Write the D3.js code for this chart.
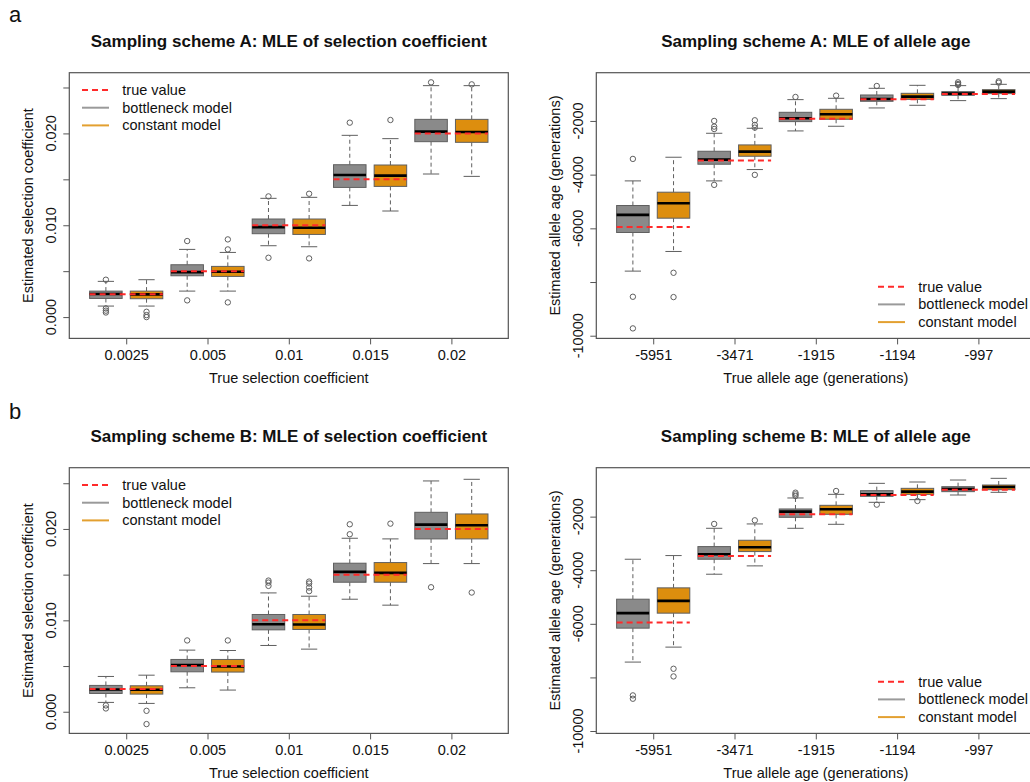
<!DOCTYPE html>
<html>
<head>
<meta charset="utf-8">
<script src="https://cdn.jsdelivr.net/npm/d3@7"></script>
<style>
  html, body { margin: 0; padding: 0; background: #fff; }
  svg { display: block; }
  text { font-family: "Liberation Sans", Arial, Helvetica, sans-serif; fill: #111; }
</style>
</head>
<body>
<svg id="chart" width="1030" height="782"></svg>
<script>
// ---------------- DATA ----------------
const selCategories = ["0.0025", "0.005", "0.01", "0.015", "0.02"];
const selTrue = [0.0025, 0.005, 0.01, 0.015, 0.02];
const ageCategories = ["-5951", "-3471", "-1915", "-1194", "-997"];
const ageTrue = [-5951, -3471, -1915, -1194, -997];
const modelNames = ["true value", "bottleneck model", "constant model"];

const selTickValues = [0, 0.005, 0.01, 0.015, 0.02, 0.025];
const selTickLabels = [0, 0.01, 0.02];
const ageTickValues = [-10000, -8000, -6000, -4000, -2000];
const ageTickLabels = [-10000, -6000, -4000, -2000];

// each row: [lower whisker, Q1, median, Q3, upper whisker]
// Sampling scheme A, selection coefficient
const aSelBottleneck = [
  [0.0012, 0.00203, 0.00251, 0.00283, 0.00389],
  [0.00283, 0.0045, 0.0049, 0.0057, 0.00737],
  [0.00777, 0.00908, 0.0098, 0.01068, 0.01293],
  [0.01216, 0.01412, 0.01547, 0.01659, 0.01979],
  [0.01558, 0.0191, 0.02019, 0.02153, 0.0252]
];
const aSelConstant = [
  [0.0012, 0.002, 0.00247, 0.00283, 0.00407],
  [0.00283, 0.00443, 0.00494, 0.00552, 0.00704],
  [0.00766, 0.009, 0.00973, 0.01068, 0.01304],
  [0.01155, 0.01423, 0.0154, 0.01656, 0.01943],
  [0.01532, 0.01903, 0.02015, 0.02153, 0.0252]
];
const aSelBottleneckOut = [[0.00407, 0.00094, 0.0007, 0.0005], [0.00828, 0.00182], [0.01314, 0.00646], [0.02117], [0.02556]];
const aSelConstantOut = [[0.00058, 0.00022, 0.0], [0.00846, 0.00737, 0.0016], [0.01343, 0.00639], [0.02146], [0.02534]];

// Sampling scheme A, allele age
const aAgeBottleneck = [
  [-7594, -6155, -5498, -5150, -4233],
  [-4233, -3612, -3440, -3129, -2459],
  [-2372, -2025, -1901, -1678, -1206],
  [-1516, -1268, -1181, -1033, -784],
  [-1243, -1045, -983, -909, -685]
];
const aAgeConstant = [
  [-6862, -5622, -5064, -4654, -3352],
  [-3811, -3315, -3141, -2893, -2273],
  [-2198, -1938, -1752, -1566, -1157],
  [-1417, -1194, -1095, -971, -673],
  [-1169, -983, -909, -834, -636]
];
const aAgeBottleneckOut = [[-3414, -8549, -9727], [-2000, -2211, -2300, -4381], [-1107], [-698], [-561, -623, -660]];
const aAgeConstantOut = [[-7656, -8561], [-1975, -2149, -2248, -4009], [-1057], [], [-524, -574]];

// Sampling scheme B, selection coefficient
const bSelBottleneck = [
  [0.00102, 0.002, 0.00244, 0.00288, 0.00386],
  [0.00262, 0.00437, 0.0051, 0.00572, 0.00674],
  [0.00725, 0.00896, 0.00958, 0.01064, 0.013],
  [0.01231, 0.01417, 0.0153, 0.01625, 0.01898],
  [0.01621, 0.01891, 0.02047, 0.02182, 0.02525]
];
const bSelConstant = [
  [0.00091, 0.00193, 0.0024, 0.00284, 0.004],
  [0.00237, 0.00434, 0.00495, 0.00572, 0.0067],
  [0.00685, 0.009, 0.00954, 0.01064, 0.01264],
  [0.01166, 0.01417, 0.01519, 0.01632, 0.01891],
  [0.01621, 0.01891, 0.0204, 0.02164, 0.02543]
];
const bSelBottleneckOut = [[0.00069, 0.00036], [0.0078], [0.01435, 0.01413, 0.01377], [0.02051, 0.01942], [0.01362]];
const bSelConstantOut = [[0.0001, -0.00135], [0.0078], [0.01424, 0.01403, 0.01359, 0.01319], [0.02058], [0.01304]];

// Sampling scheme B, allele age
const bAgeBottleneck = [
  [-7428, -6161, -5602, -5081, -3590],
  [-4149, -3590, -3404, -3118, -2435],
  [-2435, -2025, -1814, -1714, -1304],
  [-1466, -1242, -1168, -1031, -758],
  [-1193, -1068, -969, -882, -634]
];
const bAgeConstant = [
  [-6869, -5602, -5143, -4658, -3453],
  [-3838, -3304, -3143, -2882, -2273],
  [-2286, -1913, -1727, -1578, -1168],
  [-1366, -1168, -1068, -944, -708],
  [-1093, -994, -894, -820, -571]
];
const bAgeBottleneckOut = [[-8671, -8795], [-2273], [-1106, -1168, -1230], [-1553], []];
const bAgeConstantOut = [[-7677, -7963], [-2137], [-1043], [-1416], []];

// ---------------- DRAWING ----------------
const svg = d3.select("#chart");
const FONT = 14.5;
const COL_GRAY = "#8a8a8a";
const COL_ORANGE = "#dd8e0e";
const COL_EDGE = "#5f5f5f";
const COL_RED = "#ff2a2a";

function drawPanel(cfg) {
  const W = 439, H = 265.7;
  const L = cfg.left, T = cfg.top, R = L + W, B = T + H;
  const x = d3.scaleLinear().domain([0.1, 10.9]).range([L, R]);
  const y = d3.scaleLinear().domain(cfg.yDomain).range([B, T]);
  const g = svg.append("g");

  // title
  g.append("text").attr("x", (L + R) / 2).attr("y", T - 25.7)
    .attr("text-anchor", "middle").attr("font-weight", "bold").attr("font-size", 17)
    .text(cfg.title);

  // boxes
  const groups = [
    { stats: cfg.gray, out: cfg.grayOut, fill: COL_GRAY, off: 1 },
    { stats: cfg.orange, out: cfg.orangeOut, fill: COL_ORANGE, off: 2 }
  ];
  const bw = 0.8;
  groups.forEach(gr => {
    gr.stats.forEach((s, i) => {
      const p = 2 * i + gr.off;
      const [lo, q1, med, q3, hi] = s;
      const cx = x(p);
      const hw = x(p + bw / 2) - cx;
      // whiskers (dashed)
      g.append("line").attr("x1", cx).attr("x2", cx).attr("y1", y(q3)).attr("y2", y(hi))
        .attr("stroke", COL_EDGE).attr("stroke-dasharray", "4,3");
      g.append("line").attr("x1", cx).attr("x2", cx).attr("y1", y(q1)).attr("y2", y(lo))
        .attr("stroke", COL_EDGE).attr("stroke-dasharray", "4,3");
      // staples
      [lo, hi].forEach(v => {
        g.append("line").attr("x1", cx - hw / 2).attr("x2", cx + hw / 2)
          .attr("y1", y(v)).attr("y2", y(v)).attr("stroke", COL_EDGE);
      });
      // box
      g.append("rect").attr("x", cx - hw).attr("width", 2 * hw)
        .attr("y", y(q3)).attr("height", y(q1) - y(q3))
        .attr("fill", gr.fill).attr("stroke", COL_EDGE).attr("stroke-width", 1);
      // median
      g.append("line").attr("x1", cx - hw).attr("x2", cx + hw)
        .attr("y1", y(med)).attr("y2", y(med)).attr("stroke", "#000").attr("stroke-width", 2.6);
      // outliers
      gr.out[i].forEach(v => {
        g.append("circle").attr("cx", cx).attr("cy", y(v)).attr("r", 2.7)
          .attr("fill", "none").attr("stroke", COL_EDGE).attr("stroke-width", 1);
      });
    });
  });

  // true values
  cfg.truth.forEach((v, i) => {
    const p1 = 2 * i + 1, p2 = 2 * i + 2;
    g.append("line").attr("x1", x(p1 - bw / 2)).attr("x2", x(p2 + bw / 2))
      .attr("y1", y(v)).attr("y2", y(v))
      .attr("stroke", COL_RED).attr("stroke-width", 2).attr("stroke-dasharray", "6,4");
  });

  // frame
  g.append("rect").attr("x", L).attr("y", T).attr("width", W).attr("height", H)
    .attr("fill", "none").attr("stroke", "#555").attr("stroke-width", 1.2);

  // x axis
  const xTickPos = cfg.xLabels.map((d, i) => 2 * i + 1.5);
  const xAxis = d3.axisBottom(x).tickValues(xTickPos).tickSize(6).tickPadding(0)
    .tickFormat((d, i) => cfg.xLabels[i]);
  const gx = g.append("g").attr("transform", `translate(0,${B})`).call(xAxis);
  gx.select(".domain").remove();
  gx.selectAll(".tick line").attr("stroke", "#555");
  gx.selectAll(".tick text").attr("font-size", FONT).attr("fill", "#111")
    .attr("dy", null).attr("y", 21.7);

  // y axis ticks
  const yAxis = d3.axisLeft(y).tickValues(cfg.yTicks).tickSize(6).tickFormat("");
  const gy = g.append("g").attr("transform", `translate(${L},0)`).call(yAxis);
  gy.select(".domain").remove();
  gy.selectAll(".tick line").attr("stroke", "#555");
  // rotated y labels
  cfg.yLabelTicks.forEach(v => {
    const tx = L - 13, ty = y(v);
    g.append("text").attr("x", tx).attr("y", ty)
      .attr("transform", `rotate(-90,${tx},${ty})`)
      .attr("text-anchor", "middle").attr("font-size", FONT)
      .text(cfg.yFormat(v));
  });

  // axis titles
  g.append("text").attr("x", (L + R) / 2).attr("y", B + 45)
    .attr("text-anchor", "middle").attr("font-size", FONT).text(cfg.xTitle);
  const ax = L - 36, ay = (T + B) / 2;
  g.append("text").attr("x", ax).attr("y", ay)
    .attr("transform", `rotate(-90,${ax},${ay})`)
    .attr("text-anchor", "middle").attr("font-size", FONT).text(cfg.yTitle);

  // legend
  const lg = g.append("g");
  const lx = L + cfg.legend[0], ly = T + cfg.legend[1];
  const styles = [
    { stroke: COL_RED, dash: "6,4", w: 2 },
    { stroke: "#9a9a9a", dash: null, w: 2 },
    { stroke: "#e3a030", dash: null, w: 2 }
  ];
  modelNames.forEach((name, i) => {
    const yy = ly + i * 17.7;
    lg.append("line").attr("x1", lx).attr("x2", lx + 27).attr("y1", yy).attr("y2", yy)
      .attr("stroke", styles[i].stroke).attr("stroke-width", styles[i].w)
      .attr("stroke-dasharray", styles[i].dash);
    lg.append("text").attr("x", lx + 40.3).attr("y", yy + 5).attr("font-size", FONT).text(name);
  });
}

const selFmt = d3.format(".3f");
const ageFmt = d => String(d);

// panel letters
svg.append("text").attr("x", 9).attr("y", 22).attr("font-size", 22).text("a");
svg.append("text").attr("x", 9).attr("y", 419).attr("font-size", 22).text("b");

drawPanel({
  left: 69.3, top: 72.7, yDomain: [-0.00232, 0.02661],
  yTicks: selTickValues, yLabelTicks: selTickLabels, yFormat: selFmt,
  xLabels: selCategories, truth: selTrue,
  gray: aSelBottleneck, orange: aSelConstant, grayOut: aSelBottleneckOut, orangeOut: aSelConstantOut,
  title: "Sampling scheme A: MLE of selection coefficient",
  xTitle: "True selection coefficient", yTitle: "Estimated selection coefficient",
  legend: [12.7, 17.3]
});
drawPanel({
  left: 596.3, top: 72.7, yDomain: [-10100, -203],
  yTicks: ageTickValues, yLabelTicks: ageTickLabels, yFormat: ageFmt,
  xLabels: ageCategories, truth: ageTrue,
  gray: aAgeBottleneck, orange: aAgeConstant, grayOut: aAgeBottleneckOut, orangeOut: aAgeConstantOut,
  title: "Sampling scheme A: MLE of allele age",
  xTitle: "True allele age (generations)", yTitle: "Estimated allele age (generations)",
  legend: [281.7, 214]
});
drawPanel({
  left: 69.3, top: 467.7, yDomain: [-0.00237, 0.0267],
  yTicks: selTickValues, yLabelTicks: selTickLabels, yFormat: selFmt,
  xLabels: selCategories, truth: selTrue,
  gray: bSelBottleneck, orange: bSelConstant, grayOut: bSelBottleneckOut, orangeOut: bSelConstantOut,
  title: "Sampling scheme B: MLE of selection coefficient",
  xTitle: "True selection coefficient", yTitle: "Estimated selection coefficient",
  legend: [12.7, 17.3]
});
drawPanel({
  left: 596.3, top: 467.7, yDomain: [-10089, -174],
  yTicks: ageTickValues, yLabelTicks: ageTickLabels, yFormat: ageFmt,
  xLabels: ageCategories, truth: ageTrue,
  gray: bAgeBottleneck, orange: bAgeConstant, grayOut: bAgeBottleneckOut, orangeOut: bAgeConstantOut,
  title: "Sampling scheme B: MLE of allele age",
  xTitle: "True allele age (generations)", yTitle: "Estimated allele age (generations)",
  legend: [281.7, 214]
});
</script>
</body>
</html>
